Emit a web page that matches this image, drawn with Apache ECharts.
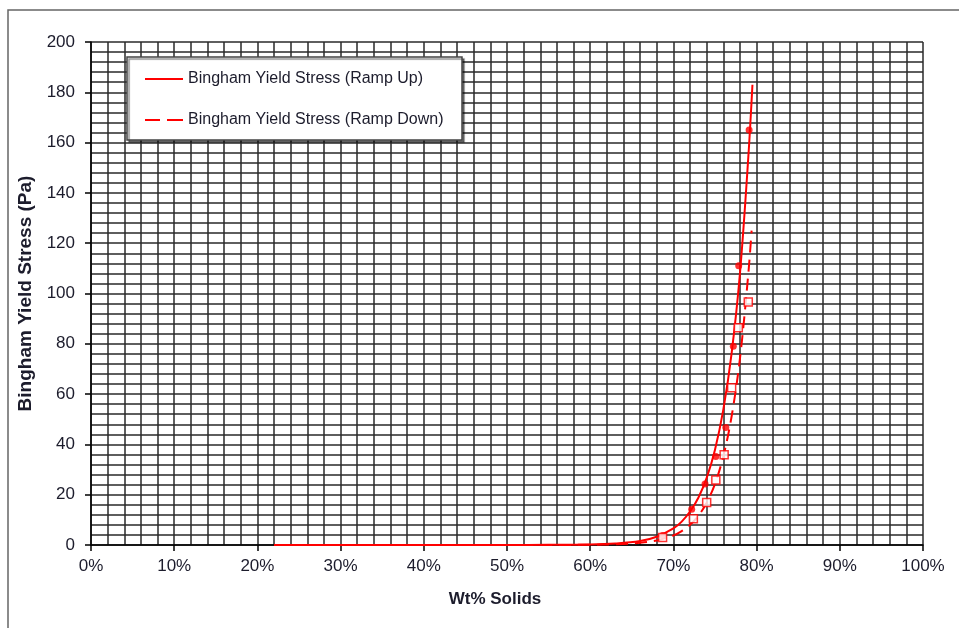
<!DOCTYPE html>
<html>
<head>
<meta charset="utf-8">
<script src="https://cdn.jsdelivr.net/npm/echarts@6/dist/echarts.min.js"></script>
<style>
html,body{margin:0;padding:0;background:#fff;}
#chart{width:959px;height:628px;}
</style>
</head>
<body>
<div id="chart"></div>
<script>
// Fitted curves (Wt% solids, Pa)
const rampUpCurveX = [22, 30, 40, 50, 55, 60, 63, 66, 68, 70, 71, 72, 73, 74, 75, 76, 77, 78, 79, 79.5];
const rampUpCurveY = [0, 0, 0, 0.02, 0.05, 0.2, 0.6, 1.6, 3.3, 6.6, 9.3, 13.3, 18.8, 26.7, 37.9, 53.8, 76.3, 108, 154, 183];
const rampDownCurveX = [22, 30, 40, 50, 55, 60, 63, 66, 68, 70, 71, 72, 73, 74, 75, 76, 77, 78, 79, 79.4];
const rampDownCurveY = [0, 0, 0, 0.01, 0.02, 0.1, 0.3, 0.9, 1.8, 3.8, 5.5, 8.0, 11.6, 16.8, 24.3, 35.3, 51.2, 74.2, 107.7, 125];
// Measured points
const rampUpX = [68.7, 72.2, 73.8, 75.1, 76.3, 77.2, 77.85, 79.1];
const rampUpY = [3.8, 14.2, 24.3, 35.2, 46.7, 79, 111, 165];
const rampDownX = [68.7, 72.4, 74.0, 75.1, 76.1, 77.0, 77.8, 79.0];
const rampDownY = [3.0, 10.4, 16.9, 25.8, 35.9, 62.5, 86.4, 96.6];
const seriesNames = ['Bingham Yield Stress (Ramp Up)', 'Bingham Yield Stress (Ramp Down)'];
const xAxisTitle = 'Wt% Solids';
const yAxisTitle = 'Bingham Yield Stress (Pa)';

const zip = (xs, ys) => xs.map((x, i) => [x, ys[i]]);
const RED = '#ff0000';
const GRIDC = '#2a2a2a';
const TXT = '#1c1c2c';
const FONT = 'Liberation Sans, Arial, sans-serif';

const chart = echarts.init(document.getElementById('chart'));
chart.setOption({
  animation: false,
  backgroundColor: '#fff',
  textStyle: { fontFamily: FONT },
  grid: { left: 91, right: 36, top: 42, bottom: 83, containLabel: false },
  xAxis: {
    type: 'value', min: 0, max: 100, interval: 10,
    name: xAxisTitle, nameLocation: 'middle', nameGap: 46,
    nameTextStyle: { fontSize: 17, fontWeight: 'bold', color: TXT, fontFamily: FONT, padding: [0, 24, 0, 0] },
    axisLine: { show: true, onZero: false, lineStyle: { color: '#000', width: 1.5 } },
    axisTick: { show: true, inside: false, length: 6, lineStyle: { color: '#000', width: 1.5 } },
    axisLabel: { formatter: '{value}%', fontSize: 17, color: TXT, margin: 13, fontFamily: FONT },
    splitLine: { show: true, lineStyle: { color: GRIDC, width: 1.5 } },
    minorTick: { show: true, splitNumber: 5, length: 0 },
    minorSplitLine: { show: true, lineStyle: { color: GRIDC, width: 1.5 } }
  },
  yAxis: {
    type: 'value', min: 0, max: 200, interval: 20,
    name: yAxisTitle, nameLocation: 'middle', nameGap: 55, nameRotate: 90,
    nameTextStyle: { fontSize: 19, fontWeight: 'bold', color: TXT, fontFamily: FONT },
    axisLine: { show: true, onZero: false, lineStyle: { color: '#000', width: 1.5 } },
    axisTick: { show: true, inside: false, length: 6, lineStyle: { color: '#000', width: 1.5 } },
    axisLabel: { fontSize: 17, color: TXT, margin: 16, fontFamily: FONT },
    splitLine: { show: true, lineStyle: { color: GRIDC, width: 1.5 } },
    minorTick: { show: true, splitNumber: 5, length: 0 },
    minorSplitLine: { show: true, lineStyle: { color: GRIDC, width: 1.5 } }
  },
  legend: {
    data: [
      { name: seriesNames[0], icon: 'path://M0,0 H38 V2 H0 Z' },
      { name: seriesNames[1], icon: 'path://M0,0 H15 V2 H0 Z M22,0 H38 V2 H22 Z' }
    ],
    orient: 'vertical', left: 140, top: 66,
    itemWidth: 38, itemHeight: 2, itemGap: 25,
    textStyle: { fontSize: 16, color: TXT, fontFamily: FONT },
    selectedMode: false, z: 6
  },
  graphic: [
    { type: 'rect', silent: true, z: -10, shape: { x: 8, y: 10, width: 1000, height: 700 },
      style: { fill: 'none', stroke: '#666', lineWidth: 1.5 } },
    { type: 'rect', silent: true, z: 3, shape: { x: 127, y: 57, width: 335, height: 83 },
      style: { fill: '#fff', stroke: '#444', lineWidth: 1.5, shadowColor: 'rgba(0,0,0,0.45)', shadowOffsetX: 2, shadowOffsetY: 2, shadowBlur: 1 } }
  ],
  series: [
    { name: seriesNames[0], type: 'line', data: zip(rampUpCurveX, rampUpCurveY), symbol: 'none',
      smooth: 0.35, z: 3,
      lineStyle: { color: RED, width: 2 }, itemStyle: { color: RED } },
    { name: seriesNames[1], type: 'line', data: zip(rampDownCurveX, rampDownCurveY), symbol: 'none',
      smooth: 0.35, z: 3,
      lineStyle: { color: RED, width: 2, type: [12, 7] }, itemStyle: { color: RED } },
    { name: 'up-points', type: 'scatter', data: zip(rampUpX, rampUpY), symbol: 'circle', symbolSize: 7, z: 4,
      itemStyle: { color: RED } },
    { name: 'down-points', type: 'scatter', data: zip(rampDownX, rampDownY), symbol: 'rect', symbolSize: 8, z: 4,
      itemStyle: { color: '#fff', borderColor: RED, borderWidth: 1.5 } }
  ]
});
</script>
</body>
</html>
